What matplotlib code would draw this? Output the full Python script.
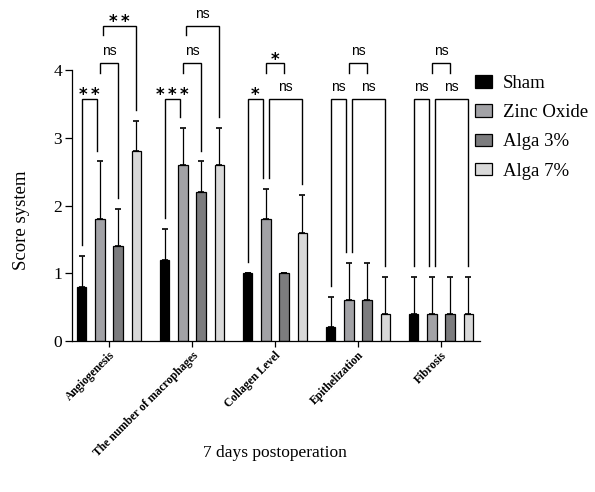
import numpy as np
import matplotlib
matplotlib.use("Agg")
import matplotlib.pyplot as plt
from matplotlib.patches import Patch

plt.rcParams['font.family'] = ['Liberation Serif', 'DejaVu Serif']

categories = ['Angiogenesis', 'The number of macrophages', 'Collagen Level',
              'Epithelization', 'Fibrosis']
groups = ['Sham', 'Zinc Oxide', 'Alga 3%', 'Alga 7%']
colors = ['#000000', '#a2a2a6', '#7c7c7e', '#d9d9d9']

sham = [0.8, 1.2, 1.0, 0.2, 0.4]
zinc = [1.8, 2.6, 1.8, 0.6, 0.4]
alga3 = [1.4, 2.2, 1.0, 0.6, 0.4]
alga7 = [2.8, 2.6, 1.6, 0.4, 0.4]

sham_sd = [0.45, 0.45, 0.0, 0.45, 0.55]
zinc_sd = [0.85, 0.55, 0.45, 0.55, 0.55]
alga3_sd = [0.55, 0.45, 0.0, 0.55, 0.55]
alga7_sd = [0.45, 0.55, 0.55, 0.55, 0.55]

# (bar i, bar j, level, label, short left leg, short right leg)
brackets = [
    [(0, 1, 0, '**', False, False), (1, 2, 1, 'ns', True, False), (1, 3, 2, '**', True, False)],
    [(0, 1, 0, '***', False, False), (1, 2, 1, 'ns', True, False), (1, 3, 2, 'ns', True, False)],
    [(0, 1, 0, '*', False, False), (1, 3, 0, 'ns', False, False), (1, 2, 1, '*', True, True)],
    [(0, 1, 0, 'ns', False, False), (1, 3, 0, 'ns', False, False), (1, 2, 1, 'ns', True, True)],
    [(0, 1, 0, 'ns', False, False), (1, 3, 0, 'ns', False, False), (1, 2, 1, 'ns', True, True)],
]
levels = [3.57, 4.1, 4.65]

means = np.array([sham, zinc, alga3, alga7])
sds = np.array([sham_sd, zinc_sd, alga3_sd, alga7_sd])

fig = plt.figure(figsize=(5.95, 4.92), dpi=100)
ax = fig.add_axes([72/595, 1-341/492, 408/595, 4.9*67.75/492])

x = np.arange(len(categories))
pitch = 0.22
width = 0.115
offsets = (np.arange(4) - 1.5) * pitch

for k in range(4):
    ax.bar(x + offsets[k], means[k], width, color=colors[k], edgecolor='black',
           linewidth=0.9, zorder=2)
    ax.errorbar(x + offsets[k], means[k], yerr=[np.zeros(len(x)), sds[k]],
                fmt='none', ecolor='black', elinewidth=0.9, capsize=2.2,
                capthick=1.2, zorder=1)

tops = means + sds
for g, blist in enumerate(brackets):
    for i, j, lev, lab, sl, sr in blist:
        y = levels[lev]
        xl = x[g] + offsets[i]
        xr = x[g] + offsets[j]
        if i == 1 and j == 3:
            xl += 0.04
        if j == 1:
            xr -= 0.04
        yl = y - 0.14 if sl else tops[i, g] + 0.16
        yr = y - 0.14 if sr else tops[j, g] + 0.16
        ax.plot([xl, xl, xr, xr], [yl, y, y, yr], color='black', lw=1.0,
                clip_on=False, solid_joinstyle='miter')
        if lab == 'ns':
            ax.text((xl + xr) / 2, y + 0.12, lab, ha='center', va='baseline',
                    fontsize=10, family='Liberation Sans', clip_on=False)
        else:
            ax.text((xl + xr) / 2, y - 0.02, '\u2009'.join(lab),
                    ha='center', va='baseline', fontsize=12, weight='bold',
                    family='DejaVu Sans', clip_on=False)

ax.set_xlim(-0.446, 4.47)
ax.set_ylim(0, 4.9)
ax.spines['top'].set_visible(False)
ax.spines['right'].set_visible(False)
ax.spines['left'].set_bounds(0, 4)
ax.spines['left'].set_linewidth(0.9)
ax.spines['bottom'].set_linewidth(0.9)
ax.set_yticks([0, 1, 2, 3, 4])
ax.tick_params(axis='y', length=5, width=0.9, labelsize=12.5, pad=2)
ax.tick_params(axis='x', length=4, width=0.9, pad=2)
ax.set_xticks(x)
ax.set_xticklabels(categories, rotation=45, ha='right', va='top',
                   rotation_mode='anchor', fontsize=8.4, weight='bold')

handles = [Patch(facecolor=c, edgecolor='black', linewidth=0.9) for c in colors]
fig.legend(handles, groups, loc='upper left', bbox_to_anchor=(475/595, 1-75/492),
           frameon=False, fontsize=13.5, handlelength=0.9, handleheight=0.65,
           handletextpad=0.6, labelspacing=0.65, borderpad=0, borderaxespad=0)

fig.text(22/595, 1-220/492, 'Score system', rotation=90, ha='center', va='center',
         fontsize=13.5)
fig.text(275/595, 1-453/492, '7 days postoperation', ha='center', va='center',
         fontsize=12.5)

fig.savefig('out.png', dpi=100)
